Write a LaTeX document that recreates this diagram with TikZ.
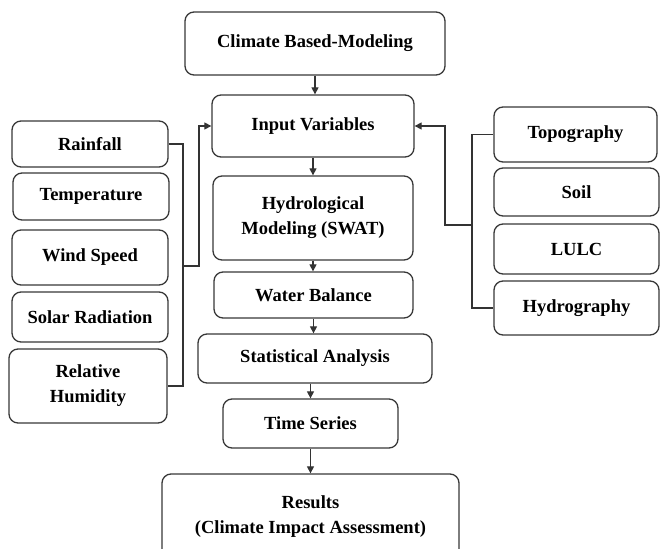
\documentclass[tikz,border=0pt]{standalone}
\usepackage{fontspec}
\setmainfont{Liberation Serif}
\usetikzlibrary{arrows.meta}
\begin{document}
\begin{tikzpicture}[x=1pt,y=-1pt,
  box/.style={draw=black!78,line width=1.3pt,rounded corners=9pt,align=center,
    inner sep=0pt,font=\fontsize{18.5}{25}\selectfont\bfseries},
  line/.style={draw=black!80,line width=1.2pt},
  arr/.style={line,-{Triangle[length=7pt,width=7pt]}}]
\useasboundingbox (0,0) rectangle (662,549);
% centre column
\node[box,minimum width=260pt,minimum height=63pt] (climate) at (315,43.5) {Climate Based-Modeling};
\node[box,minimum width=202pt,minimum height=62pt] (input) at (313,126) {Input Variables};
\node[box,minimum width=200pt,minimum height=84pt] (hydro) at (313,218) {Hydrological\\Modeling (SWAT)};
\node[box,minimum width=199pt,minimum height=46pt] (water) at (313.5,295) {Water Balance};
\node[box,minimum width=234pt,minimum height=49pt] (stat) at (315,358.5) {Statistical Analysis};
\node[box,minimum width=175pt,minimum height=49pt] (time) at (310.5,423.5) {Time Series};
\node[box,minimum width=297pt,minimum height=86pt] (results) at (310.5,517) {Results\\(Climate Impact Assessment)};
% left column
\node[box,minimum width=156pt,minimum height=46pt] (rain) at (90,144) {Rainfall};
\node[box,minimum width=156pt,minimum height=47pt] (temp) at (91,196.5) {Temperature};
\node[box,minimum width=156pt,minimum height=55pt] (wind) at (90,257.5) {Wind Speed};
\node[box,minimum width=156pt,minimum height=50pt] (solar) at (90,317) {Solar Radiation};
\node[box,minimum width=158pt,minimum height=74pt] (rh) at (88,386) {Relative\\Humidity};
% right column
\node[box,minimum width=163pt,minimum height=55pt] (topo) at (575.5,134.5) {Topography};
\node[box,minimum width=165pt,minimum height=48pt] (soil) at (576.5,192) {Soil};
\node[box,minimum width=165pt,minimum height=50pt] (lulc) at (576.5,249) {LULC};
\node[box,minimum width=165pt,minimum height=54pt] (hydrog) at (576.5,308) {Hydrography};
% centre arrows
\draw[arr] (climate.south) -- (climate.south |- input.north);
\draw[arr] (hydro.north |- input.south) -- (hydro.north);
\draw[arr] (hydro.south) -- (hydro.south |- water.north);
\draw[arr] (water.south) -- (water.south |- stat.north);
\draw[arr] (time.north |- stat.south) -- (time.north);
\draw[arr] (time.south) -- (time.south |- results.north);
% left connector
\coordinate (lx) at (183,266);
\coordinate (lk) at (199,266);
\draw[line] (rain.east) -| (lx) |- (rh.east);
\draw[arr] (lx) -- (lk) |- (input.west);
% right connector
\coordinate (rx) at (472,225);
\coordinate (rk) at (445,225);
\draw[line] (topo.west) -| (rx) |- (hydrog.west);
\draw[arr] (rx) -- (rk) |- (input.east);
\end{tikzpicture}
\end{document}
